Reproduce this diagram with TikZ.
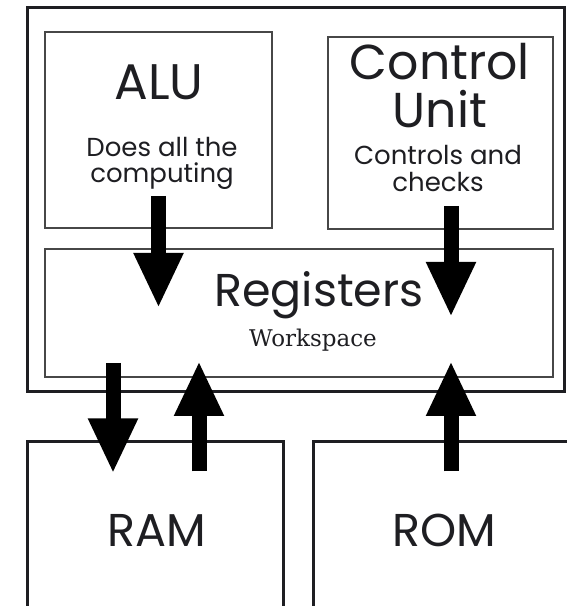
\documentclass[tikz,border=0pt]{standalone}
\usepackage{fontspec}
\usetikzlibrary{arrows.meta, calc}
\newfontfamily\labelfont{Poppins}
\newfontfamily\workfont{DejaVu Serif}
\definecolor{cpuink}{HTML}{1E1E22}

\tikzset{
  box/.style={draw=black!72, line width=2pt, inner sep=0, fill=white},
  outerbox/.style={draw=cpuink, line width=3pt, inner sep=0},
  head/.style={anchor=base, align=center, text=cpuink, inner sep=0},
  bigarrow/.style={draw=black, line width=15pt, -{Triangle[length=55pt, width=46pt]}},
}

\begin{document}
\begin{tikzpicture}[x=1pt, y=1pt, font=\labelfont]

\clip (0,0) rectangle (567,606);
\fill[white] (0,0) rectangle (567,606);

% ---- processor outline and its three units
\node[outerbox, minimum width=537, minimum height=384] (cpu) at (295.5,406) {};
\node[box, minimum width=227, minimum height=196] (alu)  at (158.5,476) {};
\node[box, minimum width=225, minimum height=192] (ctrl) at (440.5,473) {};
\node[box, minimum width=508, minimum height=128] (reg)  at (299,293) {};

% ---- memories below
\node[outerbox, minimum width=256, minimum height=178] (ram) at (155,75) {};
\node[outerbox, minimum width=276, minimum height=178] (rom) at (451,75) {};

% ---- labels (base = baseline of the last line)
\node[head, font=\labelfont\fontsize{50}{50}\selectfont] (alutitle) at (159,506) {ALU};
\node[head, font=\labelfont\fontsize{26}{26}\selectfont] (alunote) at (162,423)
  {Does all the\\computing};
\node[head, font=\labelfont\fontsize{49}{48}\selectfont] (ctrltitle) at (440,478)
  {Control\\Unit};
\node[head, font=\labelfont\fontsize{26}{27}\selectfont] (ctrlnote) at (438,414)
  {Controls and\\checks};
\node[head, font=\labelfont\fontsize{46}{46}\selectfont] (regtitle) at (319,299) {Registers};
\node[head, font=\workfont\fontsize{23}{23}\selectfont] (regnote) at (313,259) {Workspace};
\node[head, font=\labelfont\fontsize{46}{46}\selectfont] (ramtitle) at (157,59) {RAM};
\node[head, font=\labelfont\fontsize{46}{46}\selectfont] (romtitle) at (444.5,59) {ROM};

% ---- data paths
\draw[bigarrow] ($(alu.south)+(0,33)$) -- ($(alu.south |- reg.center)+(0,5)$);
\draw[bigarrow] ($(ctrl.south)+(10.5,24)$) -- ($(ctrl.south |- reg.center)+(10.5,-4)$);
\draw[bigarrow] ($(reg.south -| ram.north)+(-42,15)$) -- ($(ram.north)+(-42,-33)$);
\draw[bigarrow] ($(ram.north)+(44,-31)$) -- ($(reg.south -| ram.north)+(44,17)$);
\draw[bigarrow] ($(rom.north)+(0,-31)$) -- ($(reg.south -| rom.north)+(0,17)$);

\end{tikzpicture}
\end{document}
